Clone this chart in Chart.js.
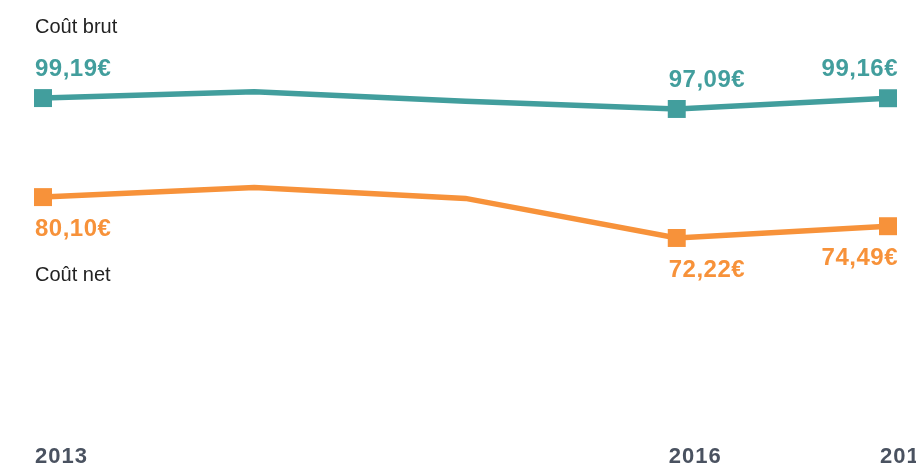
<!DOCTYPE html>
<html>
<head>
<meta charset="utf-8">
<script src="https://cdn.jsdelivr.net/npm/chart.js@4"></script>
<style>
  html, body { margin: 0; padding: 0; background: #fff; overflow: hidden; }
  #wrap { width: 916px; height: 468px; position: relative; }
</style>
</head>
<body>
<div id="wrap"><canvas id="c"></canvas></div>
<script>
const years = ['2013', '2014', '2015', '2016', '2017'];
const shownYears = [0, 3, 4];
const coutBrut = [99.19, 100.4, 98.57, 97.09, 99.16];
const coutNet = [80.10, 81.95, 79.85, 72.22, 74.49];
const seriesNames = ['Coût brut', 'Coût net'];
const teal = 'rgb(66,158,157)';
const orange = 'rgb(247,146,58)';

function fmt(v) { return v.toFixed(2).replace('.', ',') + '€'; }

const labelPlugin = {
  id: 'labels',
  afterDatasetsDraw(chart) {
    const ctx = chart.ctx;
    const xs = chart.scales.x;
    const ys = chart.scales.y;
    ctx.save();
    ctx.textBaseline = 'alphabetic';
    // value labels
    chart.data.datasets.forEach((ds, di) => {
      ctx.fillStyle = ds.borderColor;
      ctx.font = 'bold 24px "Liberation Sans", Arial, sans-serif';
      ctx.letterSpacing = '0.5px';
      shownYears.forEach((i) => {
        const x = xs.getPixelForValue(i);
        const y = ys.getPixelForValue(ds.data[i]);
        const last = i === ds.data.length - 1;
        ctx.textAlign = last ? 'right' : 'left';
        const tx = last ? x + 10 : x - 8;
        const ty = di === 0 ? y - 22 : y + 39;
        ctx.fillText(fmt(ds.data[i]), tx, ty);
      });
    });
    // series names
    ctx.letterSpacing = '0px';
    ctx.font = '20px "Liberation Sans", Arial, sans-serif';
    ctx.fillStyle = '#222';
    ctx.textAlign = 'left';
    const x0 = xs.getPixelForValue(0) - 8;
    ctx.fillText(seriesNames[0], x0, ys.getPixelForValue(coutBrut[0]) - 65);
    ctx.fillText(seriesNames[1], x0, ys.getPixelForValue(coutNet[0]) + 84);
    // year labels
    ctx.font = 'bold 22px "Liberation Sans", Arial, sans-serif';
    ctx.letterSpacing = '1px';
    ctx.fillStyle = '#4a5260';
    shownYears.forEach((i) => {
      ctx.fillText(years[i], xs.getPixelForValue(i) - 8, 463);
    });
    ctx.restore();
  }
};

new Chart(document.getElementById('c'), {
  type: 'line',
  data: {
    labels: years,
    datasets: [
      {
        label: seriesNames[0],
        data: coutBrut,
        borderColor: teal,
        backgroundColor: teal,
        borderWidth: 5.5,
        pointStyle: 'rect',
        pointRadius: years.map((_, i) => shownYears.includes(i) ? 12.7 : 0),
        pointBorderWidth: 0,
        pointBackgroundColor: teal,
        tension: 0,
        clip: false
      },
      {
        label: seriesNames[1],
        data: coutNet,
        borderColor: orange,
        backgroundColor: orange,
        borderWidth: 5.5,
        pointStyle: 'rect',
        pointRadius: years.map((_, i) => shownYears.includes(i) ? 12.7 : 0),
        pointBorderWidth: 0,
        pointBackgroundColor: orange,
        tension: 0,
        clip: false
      }
    ]
  },
  options: {
    responsive: true,
    maintainAspectRatio: false,
    animation: false,
    layout: { autoPadding: false, padding: { left: 43, right: 28, top: 0.5, bottom: 11 } },
    plugins: { legend: { display: false }, tooltip: { enabled: false } },
    scales: {
      x: { display: false, offset: false },
      y: { display: false, min: 30, max: 118 }
    }
  },
  plugins: [labelPlugin]
});
</script>
</body>
</html>
